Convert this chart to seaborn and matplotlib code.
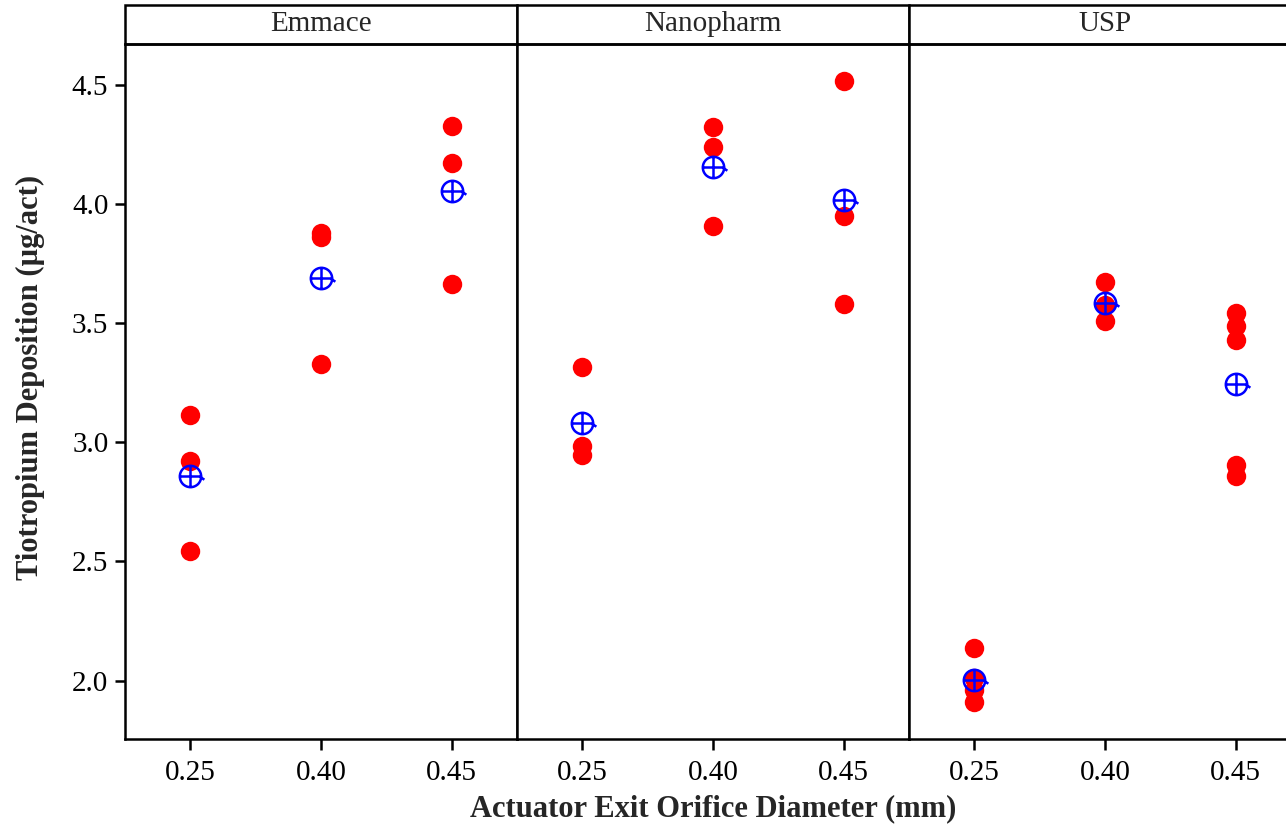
import numpy as np
import pandas as pd
import matplotlib
matplotlib.use("Agg")
import matplotlib.pyplot as plt
from matplotlib.path import Path
from matplotlib.patches import Rectangle
import seaborn as sns

# --- data ---
devices = ["Emmace", "Nanopharm", "USP"]
diameters = ["0.25", "0.40", "0.45"]

emmace_025 = [3.116, 2.920, 2.545]
emmace_040 = [3.880, 3.860, 3.330]
emmace_045 = [4.328, 4.173, 3.665]
nano_025 = [3.318, 2.983, 2.948]
nano_040 = [4.322, 4.241, 3.909]
nano_045 = [4.518, 3.948, 3.581]
usp_025 = [2.137, 2.010, 1.962, 1.909]
usp_040 = [3.672, 3.575, 3.510]
usp_045 = [3.542, 3.489, 3.430, 2.906, 2.857]

groups = {
    ("Emmace", "0.25"): emmace_025, ("Emmace", "0.40"): emmace_040, ("Emmace", "0.45"): emmace_045,
    ("Nanopharm", "0.25"): nano_025, ("Nanopharm", "0.40"): nano_040, ("Nanopharm", "0.45"): nano_045,
    ("USP", "0.25"): usp_025, ("USP", "0.40"): usp_040, ("USP", "0.45"): usp_045,
}

rows = []
for (dev, dia), vals in groups.items():
    for v in vals:
        rows.append({"Device": dev, "Diameter": dia, "Deposition": v})
df = pd.DataFrame(rows)

# minitab style mean symbol: circle + cross + little tail
circle = Path.unit_circle()
cross = Path([[-1, 0], [1, 0], [0, -1], [0, 1], [0.85, 0], [1.3, -0.3]],
             [Path.MOVETO, Path.LINETO, Path.MOVETO, Path.LINETO, Path.MOVETO, Path.LINETO])
mean_marker = Path.make_compound_path(circle, cross)

sns.set_style("white")
plt.rcParams["font.family"] = ["Liberation Serif", "DejaVu Serif"]

g = sns.FacetGrid(df, col="Device", col_order=devices, sharey=True, height=7, aspect=0.6)
g.map_dataframe(sns.stripplot, x="Diameter", y="Deposition", order=diameters,
                jitter=False, color="red", size=14, linewidth=0, zorder=2)

fig = g.figure
fig.set_size_inches(12.86, 8.32)
# right panel runs past the image edge in the reference
fig.subplots_adjust(left=125 / 1286, right=1301 / 1286, bottom=1 - 739 / 832, top=1 - 44 / 832, wspace=0)

strip_h = 39 / 695
for ax, dev in zip(g.axes.flat, devices):
    means = df[df.Device == dev].groupby("Diameter")["Deposition"].mean().reindex(diameters)
    ax.plot(range(len(diameters)), means.values, linestyle="none", marker=mean_marker,
            markersize=20, markerfacecolor="none", markeredgecolor="blue",
            markeredgewidth=1.8, zorder=3)
    ax.set_xlim(-0.5, 2.5)
    ax.set_ylim(1.755, 4.672)
    ax.set_title("")
    ax.set_xlabel("")
    ax.set_ylabel("")
    for sp in ax.spines.values():
        sp.set_visible(True)
        sp.set_color("black")
        sp.set_linewidth(1.8)
    ax.tick_params(axis="x", bottom=True, length=8, width=1.8, labelsize=21, pad=7, colors="black")
    ax.tick_params(axis="y", left=True, length=7, width=1.8, labelsize=21, pad=5, colors="black")
    ax.set_xticks(range(len(diameters)))
    ax.set_xticklabels(diameters)
    ax.add_patch(Rectangle((0, 1), 1, strip_h, transform=ax.transAxes, clip_on=False,
                           facecolor="white", edgecolor="black", linewidth=1.8))
    ax.text(0.5, 1 + strip_h / 2, dev, transform=ax.transAxes, ha="center", va="center", fontsize=21)

left_ax = g.axes.flat[0]
left_ax.set_yticks([2.0, 2.5, 3.0, 3.5, 4.0, 4.5])
left_ax.set_yticklabels(["2.0", "2.5", "3.0", "3.5", "4.0", "4.5"])
for ax in g.axes.flat[1:]:
    ax.tick_params(axis="y", left=False, labelleft=False)

left_ax.set_ylabel("Tiotropium Deposition (µg/act)", fontsize=22, fontweight="bold")
left_ax.yaxis.set_label_coords(-0.205, 0.52)
g.axes.flat[1].set_xlabel("Actuator Exit Orifice Diameter (mm)", fontsize=22, fontweight="bold", labelpad=6)

fig.savefig("out.png", dpi=100)
